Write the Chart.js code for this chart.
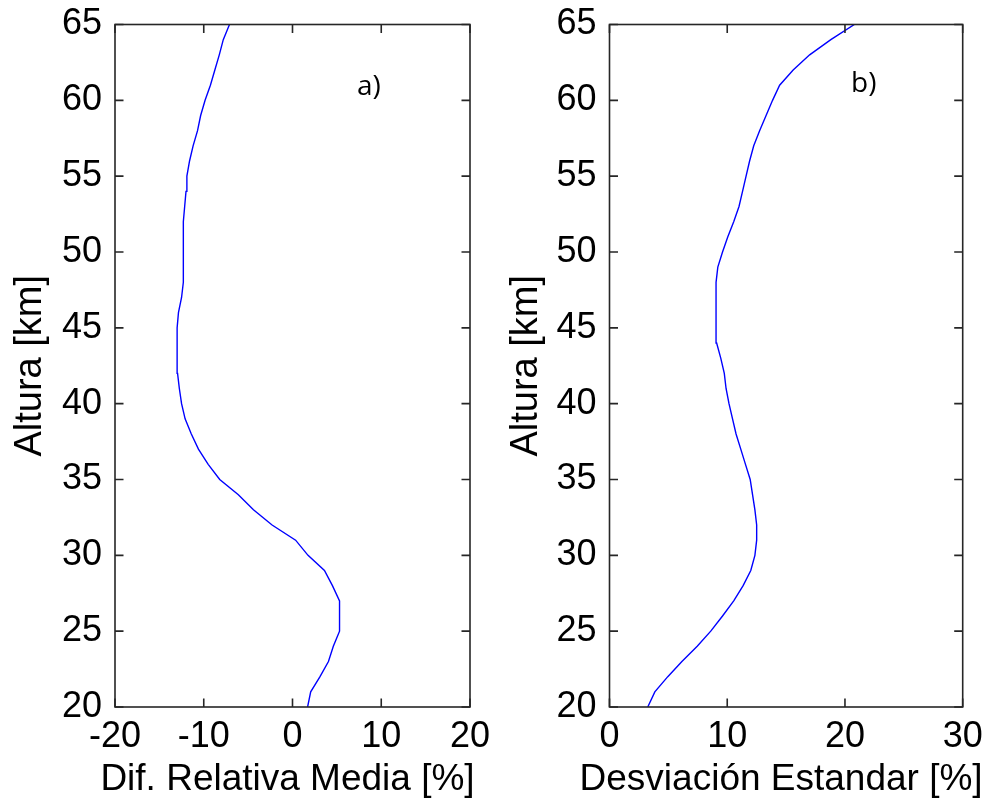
<!DOCTYPE html>
<html>
<head>
<meta charset="utf-8">
<script src="https://cdn.jsdelivr.net/npm/chart.js@4.4.0/dist/chart.umd.min.js"></script>
<style>
  html, body { margin: 0; padding: 0; background: #fff; }
  #wrap  { position: relative; width: 992px; height: 803px; }
  .panel { position: absolute; top: 0; width: 496px; height: 803px; }
</style>
</head>
<body>
<div id="wrap">
  <div class="panel" style="left:0"><canvas id="chartA" width="496" height="803"></canvas></div>
  <div class="panel" style="left:496px"><canvas id="chartB" width="496" height="803"></canvas></div>
</div>
<script>
// Altitude levels [km]
var altitudes = [20, 21, 22, 23, 24, 25, 26, 27, 28, 29,
                 30, 31, 32, 33, 34, 35, 36, 37, 38, 39,
                 40, 41, 42, 43, 44, 45, 46, 47, 48, 49,
                 50, 51, 52, 53, 54, 55, 56, 57, 58, 59,
                 60, 61, 62, 63, 64, 65];

// a) Dif. Relativa Media [%]
var difMedia = [1.7, 2.05, 3.1, 4.05, 4.6, 5.3, 5.3, 5.3, 4.5, 3.6,
                1.75, 0.35, -2.3, -4.4, -6.1, -8.2, -9.5, -10.6, -11.4, -12.1,
                -12.5, -12.75, -12.95, -13.0, -13.0, -13.0, -12.85, -12.5, -12.3, -12.3,
                -12.3, -12.3, -12.3, -12.15, -12.0, -11.9, -11.6, -11.2, -10.7, -10.35,
                -9.85, -9.25, -8.75, -8.25, -7.8, -7.1];

// b) Desviación Estandar [%]
var desvEstandar = [3.25, 3.85, 4.95, 6.15, 7.45, 8.6, 9.6, 10.55, 11.35, 12.0,
                    12.35, 12.5, 12.5, 12.35, 12.15, 11.95, 11.55, 11.15, 10.75, 10.45,
                    10.15, 9.9, 9.75, 9.45, 9.1, 9.05, 9.05, 9.05, 9.05, 9.2,
                    9.6, 10.05, 10.55, 11.0, 11.3, 11.6, 11.9, 12.25, 12.75, 13.3,
                    13.85, 14.45, 15.6, 17.0, 18.8, 20.8];

var xMinA = -20, xMaxA = 20, xStepA = 10;
var xMinB = 0,   xMaxB = 30, xStepB = 10;
var yMin = 20,   yMax = 65,  yStep = 5;

var xTitles     = ['Dif. Relativa Media [%]', 'Desviación Estandar [%]'];
var yTitle      = 'Altura [km]';
var panelLabels = ['a)', 'b)'];
var panelLabelX = [8.6, 21.6];   // in data units
var panelLabelY = [60.9, 61.1];

var FONT = "'Liberation Sans', Arial, sans-serif";
Chart.defaults.font.family = FONT;
Chart.defaults.color = '#000';

// box + inward ticks on all four sides, like a MATLAB axes
var framePlugin = {
  id: 'frameBox',
  afterDraw: function (chart, args, opts) {
    var c  = chart.ctx;
    var a  = chart.chartArea;
    var xs = chart.scales.x;
    var ys = chart.scales.y;
    var len = 8.5;

    c.save();
    c.strokeStyle = '#262626';
    c.lineWidth   = 1.6;
    c.strokeRect(a.left, a.top, a.right - a.left, a.bottom - a.top);

    c.beginPath();
    xs.ticks.forEach(function (t) {
      var px = xs.getPixelForValue(t.value);
      c.moveTo(px, a.bottom); c.lineTo(px, a.bottom - len);
      c.moveTo(px, a.top);    c.lineTo(px, a.top + len);
    });
    ys.ticks.forEach(function (t) {
      var py = ys.getPixelForValue(t.value);
      c.moveTo(a.left, py);  c.lineTo(a.left + len, py);
      c.moveTo(a.right, py); c.lineTo(a.right - len, py);
    });
    c.stroke();

    // x title, drawn here so it is not squeezed to the axis width
    c.fillStyle    = '#000';
    c.font         = '37px ' + FONT;
    c.textAlign    = 'center';
    c.textBaseline = 'alphabetic';
    c.fillText(opts.title, (a.left + a.right) / 2 - 5, 790);

    // panel letter
    c.font         = "28px 'Open Sans', 'Noto Sans', sans-serif";
    c.textBaseline = 'middle';
    c.fillText(opts.text, xs.getPixelForValue(opts.x), ys.getPixelForValue(opts.y));
    c.restore();
  }
};

function noPad(s) {
  s.paddingLeft = 0; s.paddingRight = 0; s.paddingTop = 0; s.paddingBottom = 0;
}

function makeChart(id, values, xMin, xMax, xStep, idx, leftW, rightPad) {
  var points = altitudes.map(function (h, i) { return { x: values[i], y: h }; });

  return new Chart(document.getElementById(id), {
    type: 'scatter',
    plugins: [framePlugin],
    data: {
      datasets: [{
        data:        points,
        showLine:    true,
        borderColor: '#0000ff',
        borderWidth: 1.4,
        pointRadius: 0,
        tension:     0
      }]
    },
    options: {
      responsive: false,
      animation:  false,
      layout: { padding: { left: 0, top: 24.5, right: rightPad, bottom: 0 } },
      plugins: {
        legend:   { display: false },
        tooltip:  { enabled: false },
        frameBox: { title: xTitles[idx], text: panelLabels[idx], x: panelLabelX[idx], y: panelLabelY[idx] }
      },
      scales: {
        x: {
          type: 'linear',
          min:  xMin,
          max:  xMax,
          grid:   { display: false, drawTicks: false },
          border: { display: false },
          ticks:  { stepSize: xStep, padding: 8, font: { size: 36 }, color: '#000' },
          afterFit: function (s) { s.height = 96; noPad(s); }
        },
        y: {
          type: 'linear',
          min:  yMin,
          max:  yMax,
          grid:   { display: false, drawTicks: false },
          border: { display: false },
          ticks:  { stepSize: yStep, padding: 13, font: { size: 36 }, color: '#000' },
          title:  { display: true, text: yTitle, font: { size: 38 }, color: '#000',
                    padding: { top: 8, bottom: 0 } },
          afterFit: function (s) { s.width = leftW; noPad(s); }
        }
      }
    }
  });
}

makeChart('chartA', difMedia,     xMinA, xMaxA, xStepA, 0, 115, 26);
makeChart('chartB', desvEstandar, xMinB, xMaxB, xStepB, 1, 113.5, 29.3);
</script>
</body>
</html>
